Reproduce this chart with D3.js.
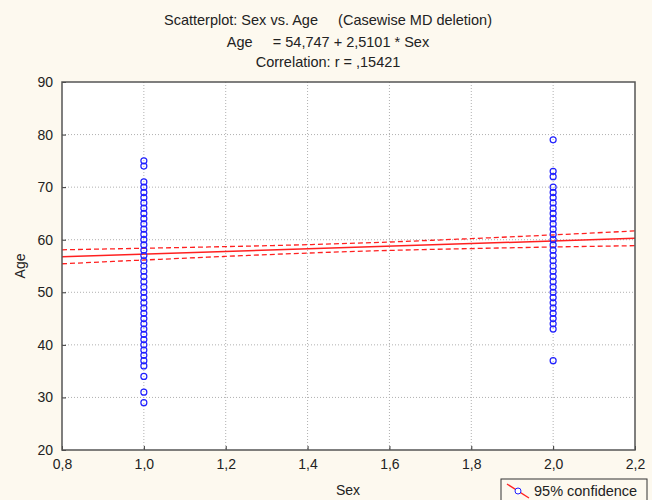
<!DOCTYPE html>
<html>
<head>
<meta charset="utf-8">
<script src="https://cdn.jsdelivr.net/npm/d3@7"></script>
<style>
  body { margin: 0; background: #fdf9ef; }
  svg { display: block; font-family: "Liberation Sans", Arial, sans-serif; }
</style>
</head>
<body>
<div id="chart"></div>
<script>
// ages (Sex = 1 and Sex = 2)
const ageSex1 = [75, 74, 71, 70, 69, 68, 67, 66, 65, 64, 63, 62, 61, 60, 59, 58, 57, 56, 55, 54,
  53, 52, 51, 50, 49, 48, 47, 46, 45, 44, 43, 42, 41, 40, 39, 38, 37, 36, 34, 31, 29];
const ageSex2 = [79, 73, 72, 70, 69, 68, 67, 66, 65, 64, 63, 62, 61, 60, 59, 58, 57, 56, 55, 54,
  53, 52, 51, 50, 49, 48, 47, 46, 45, 44, 43, 37];

// regression from the header
const intercept = 54.747, slope = 2.5101;
// 95% band half width (years) read at these x positions
const bandX = [0.8, 1.0, 1.2, 1.4, 1.6, 1.8, 2.0, 2.2];
const bandHalf = [1.33, 1.12, 0.93, 0.8, 0.8, 0.95, 1.15, 1.4];

const xTicks = [0.8, 1.0, 1.2, 1.4, 1.6, 1.8, 2.0, 2.2];
const yTicks = [20, 30, 40, 50, 60, 70, 80, 90];

const W = 652, H = 500;
const margin = { top: 82, right: 17, bottom: 50, left: 62 };
const width = W - margin.left - margin.right,
    height = H - margin.top - margin.bottom;

const loc = d3.formatLocale({ decimal: ",", thousands: " ", grouping: [3], currency: ["", ""] });
const fx = loc.format(".1f");

const root = d3.select("#chart").append("svg")
    .attr("width", W)
    .attr("height", H);

root.append("rect").attr("width", W).attr("height", H).attr("fill", "#fdf9ef");

const svg = root.append("g")
    .attr("transform", `translate(${margin.left},${margin.top})`);

const x = d3.scaleLinear().domain([0.8, 2.2]).range([0, width]);
const y = d3.scaleLinear().domain([20, 90]).range([height, 0]);

svg.append("rect")
    .attr("width", width)
    .attr("height", height)
    .attr("fill", "white");

// grid
svg.append("g")
    .selectAll("line")
    .data(xTicks.slice(1, -1))
    .join("line")
    .attr("x1", d => x(d)).attr("x2", d => x(d))
    .attr("y1", 0).attr("y2", height)
    .attr("stroke", "#b0b0b0")
    .attr("stroke-dasharray", "1,2");

svg.append("g")
    .selectAll("line")
    .data(yTicks.slice(1, -1))
    .join("line")
    .attr("y1", d => y(d)).attr("y2", d => y(d))
    .attr("x1", 0).attr("x2", width)
    .attr("stroke", "#b0b0b0")
    .attr("stroke-dasharray", "1,2");

// axes
const xAxis = d3.axisBottom(x).tickValues(xTicks).tickFormat(fx).tickSize(4).tickPadding(5);
const yAxis = d3.axisLeft(y).tickValues(yTicks).tickFormat(d3.format("d")).tickSize(4).tickPadding(5);

svg.append("g")
    .attr("transform", `translate(0,${height})`)
    .call(xAxis)
    .call(g => g.select(".domain").remove())
    .call(g => g.selectAll(".tick line").attr("y2", -4).attr("stroke", "#333"))
    .selectAll("text")
    .attr("font-size", 14)
    .attr("fill", "#222");

svg.append("g")
    .call(yAxis)
    .call(g => g.select(".domain").remove())
    .call(g => g.selectAll(".tick line").attr("x2", 4).attr("stroke", "#333"))
    .selectAll("text")
    .attr("font-size", 14)
    .attr("fill", "#222");

// regression line and band
const fit = d => intercept + slope * d;
const line = d3.line().x(d => x(d[0])).y(d => y(d[1]));
const smooth = d3.line().curve(d3.curveMonotoneX).x(d => x(d[0])).y(d => y(d[1]));

svg.append("path")
    .datum(bandX.map((d, i) => [d, fit(d) + bandHalf[i]]))
    .attr("d", smooth)
    .attr("fill", "none").attr("stroke", "#ff2020").attr("stroke-width", 1.3)
    .attr("stroke-dasharray", "5,3");

svg.append("path")
    .datum(bandX.map((d, i) => [d, fit(d) - bandHalf[i]]))
    .attr("d", smooth)
    .attr("fill", "none").attr("stroke", "#ff2020").attr("stroke-width", 1.3)
    .attr("stroke-dasharray", "5,3");

svg.append("path")
    .datum([[0.8, fit(0.8)], [2.2, fit(2.2)]])
    .attr("d", line)
    .attr("fill", "none").attr("stroke", "#ff2020").attr("stroke-width", 1.5);

// points
const pts = ageSex1.map(a => ({ sex: 1, age: a })).concat(ageSex2.map(a => ({ sex: 2, age: a })));
svg.append("g")
    .selectAll("circle")
    .data(pts)
    .join("circle")
    .attr("cx", d => x(d.sex))
    .attr("cy", d => y(d.age))
    .attr("r", 3)
    .attr("fill", "none")
    .attr("stroke", "#2020ff")
    .attr("stroke-width", 1.2);

// frame
svg.append("rect")
    .attr("width", width)
    .attr("height", height)
    .attr("fill", "none")
    .attr("stroke", "#555")
    .attr("stroke-width", 1.5);

// titles
const titles = [
    { t: "Scatterplot: Sex vs. Age\u00a0\u00a0\u00a0\u00a0\u00a0(Casewise MD deletion)", y: 25 },
    { t: "Age\u00a0\u00a0\u00a0\u00a0\u00a0= 54,747 + 2,5101 * Sex", y: 47 },
    { t: "Correlation: r = ,15421", y: 67 }
];
root.append("g")
    .selectAll("text")
    .data(titles)
    .join("text")
    .attr("x", 328)
    .attr("y", d => d.y)
    .attr("text-anchor", "middle")
    .attr("font-size", 14.5)
    .attr("fill", "#222")
    .text(d => d.t);

root.append("text")
    .attr("transform", "translate(25,266) rotate(-90)")
    .attr("text-anchor", "middle")
    .attr("font-size", 14)
    .attr("fill", "#222")
    .text("Age");

root.append("text")
    .attr("x", 348)
    .attr("y", 495)
    .attr("text-anchor", "middle")
    .attr("font-size", 14)
    .attr("fill", "#222")
    .text("Sex");

// legend
const lg = root.append("g").attr("transform", "translate(501,479)");
lg.append("rect")
    .attr("width", 146).attr("height", 26)
    .attr("fill", "#fdf9ef")
    .attr("stroke", "#333").attr("stroke-width", 1);
lg.append("line")
    .attr("x1", 6).attr("y1", 5).attr("x2", 28).attr("y2", 19)
    .attr("stroke", "#ff2020").attr("stroke-width", 1.3);
lg.append("circle")
    .attr("cx", 17).attr("cy", 12).attr("r", 3)
    .attr("fill", "white").attr("stroke", "#2020ff");
lg.append("text")
    .attr("x", 33).attr("y", 17)
    .attr("font-size", 14.5)
    .attr("fill", "#222")
    .text("95% confidence");
</script>
</body>
</html>
